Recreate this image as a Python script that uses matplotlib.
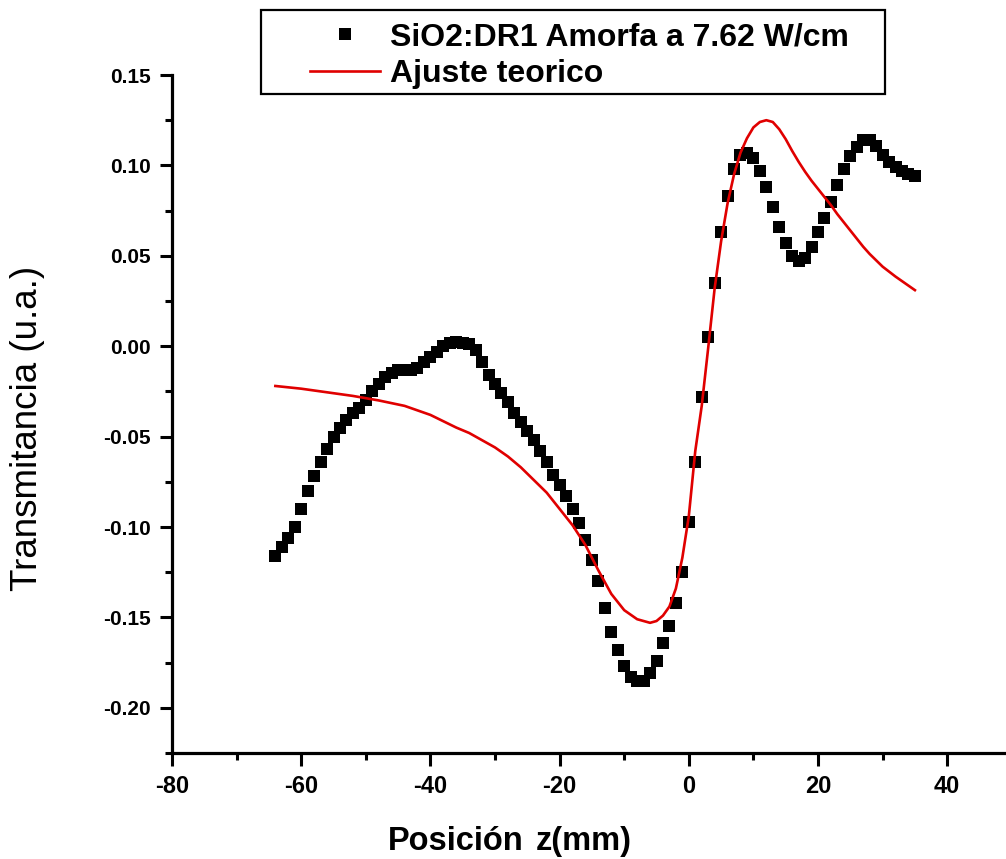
import matplotlib
matplotlib.use('Agg')
import matplotlib.pyplot as plt
from matplotlib.ticker import MultipleLocator
from matplotlib.patches import Rectangle
from matplotlib.lines import Line2D

plt.rcParams['font.family'] = ['Liberation Sans', 'DejaVu Sans']

# ---- data ----
z_data = list(range(-64, 36))
t_data = [-0.116, -0.111, -0.106, -0.100, -0.090, -0.080, -0.072, -0.064, -0.057, -0.050,
          -0.045, -0.041, -0.037, -0.034, -0.030, -0.025, -0.021, -0.017, -0.015, -0.013,
          -0.013, -0.013, -0.012, -0.009, -0.006, -0.003, 0.000, 0.002, 0.0025, 0.002,
          0.001, -0.002, -0.009, -0.016, -0.021, -0.026, -0.031, -0.037, -0.042, -0.047,
          -0.052, -0.058, -0.064, -0.071, -0.077, -0.083, -0.090, -0.098, -0.107, -0.118,
          -0.130, -0.145, -0.158, -0.168, -0.177, -0.183, -0.185, -0.185, -0.181, -0.174,
          -0.164, -0.155, -0.142, -0.125, -0.097, -0.064, -0.028, 0.005, 0.035, 0.063,
          0.083, 0.098, 0.106, 0.107, 0.104, 0.097, 0.088, 0.077, 0.066, 0.057,
          0.050, 0.047, 0.049, 0.055, 0.063, 0.071, 0.080, 0.089, 0.098, 0.105,
          0.110, 0.114, 0.114, 0.111, 0.106, 0.102, 0.099, 0.097, 0.095, 0.094]

z_fit = [-64, -60, -56, -52, -48, -44, -40, -36, -34, -32, -30, -28, -26, -24, -22, -20,
         -18, -16, -14, -12, -10, -8, -6, -5, -4, -3, -2, -1, 0, 1, 2, 3, 4, 5, 6, 7, 8,
         9, 10, 11, 12, 13, 14, 15, 16, 17, 18, 19, 20, 21, 22, 23, 24, 25, 26, 27, 28,
         30, 32, 34, 35]
t_fit = [-0.022, -0.0235, -0.0255, -0.0275, -0.030, -0.033, -0.038, -0.045, -0.048,
         -0.052, -0.056, -0.061, -0.067, -0.074, -0.081, -0.090, -0.099, -0.110, -0.124,
         -0.137, -0.146, -0.151, -0.153, -0.152, -0.149, -0.144, -0.134, -0.117, -0.094,
         -0.058, -0.033, -0.001, 0.032, 0.058, 0.079, 0.095, 0.107, 0.115, 0.121, 0.124,
         0.125, 0.124, 0.120, 0.1145, 0.108, 0.102, 0.0965, 0.0915, 0.087, 0.0825, 0.078,
         0.073, 0.0685, 0.064, 0.0595, 0.055, 0.051, 0.044, 0.0385, 0.0335, 0.031]

label_data = "SiO2:DR1 Amorfa a 7.62 W/cm"
label_fit = "Ajuste teorico"
xlabel_a = "Posición"
xlabel_b = "z(mm)"
ylabel = "Transmitancia (u.a.)"

W, H = 1006, 859
fig = plt.figure(figsize=(W / 100, H / 100), dpi=100)
ax = fig.add_axes([172 / W, 1 - 753 / H, 1 - 172 / W, (753 - 75) / H])

ax.plot(z_data, t_data, linestyle='none', marker='s', markersize=8.2,
        color='black', markeredgewidth=0, zorder=2)
ax.plot(z_fit, t_fit, color='#e00000', linewidth=1.9, zorder=3)

ax.set_xlim(-80, 49.1)
ax.set_ylim(-0.225, 0.15)

ax.xaxis.set_major_locator(MultipleLocator(20))
ax.xaxis.set_minor_locator(MultipleLocator(10))
ax.yaxis.set_major_locator(MultipleLocator(0.05))
ax.yaxis.set_minor_locator(MultipleLocator(0.025))

for s in ['top', 'right']:
    ax.spines[s].set_visible(False)
for s in ['left', 'bottom']:
    ax.spines[s].set_linewidth(2.3)

ax.tick_params(which='major', direction='out', length=9, width=2.2, pad=6)
ax.tick_params(which='minor', direction='out', length=5, width=2.2)
ax.tick_params(axis='x', which='major', pad=7)

ax.set_yticks([0.15, 0.10, 0.05, 0.00, -0.05, -0.10, -0.15, -0.20])
ax.set_yticklabels(['0.15', '0.10', '0.05', '0.00', '-0.05', '-0.10', '-0.15', '-0.20'],
                   fontsize=15, fontweight='bold')
xt = [-80, -60, -40, -20, 0, 20, 40]
ax.set_xticks(xt)
ax.set_xticklabels([str(v) for v in xt], fontsize=17, fontweight='bold',
                   family=['Liberation Sans Narrow', 'Liberation Sans', 'DejaVu Sans'])

fig.text(388 / W, 1 - 850 / H, xlabel_a, fontsize=23.5, fontweight='bold',
         ha='left', va='baseline')
fig.text(536 / W, 1 - 850 / H, xlabel_b, fontsize=23.5, fontweight='bold',
         ha='left', va='baseline')
fig.text(28 / W, 1 - 428 / H, ylabel, fontsize=26.5, rotation=90,
         ha='center', va='center')

# legend
h1 = Line2D([], [], linestyle='none', marker='s', markersize=8.2, color='black',
            markeredgewidth=0)
h2 = Line2D([], [], color='#e00000', linewidth=1.9)
leg = fig.legend([h1, h2], [label_data, label_fit], loc='upper left',
                 bbox_to_anchor=(310 / W, 1 - 22 / H), frameon=False,
                 prop={'weight': 'bold', 'size': 23}, handlelength=2.2,
                 handletextpad=0.3, labelspacing=0.22, borderpad=0,
                 borderaxespad=0, numpoints=1)
fig.patches.append(Rectangle((261 / W, 1 - 94 / H), (885 - 261) / W, (94 - 10) / H,
                             transform=fig.transFigure, fill=False,
                             edgecolor='black', linewidth=1.6))

fig.savefig('out.png', dpi=100)
